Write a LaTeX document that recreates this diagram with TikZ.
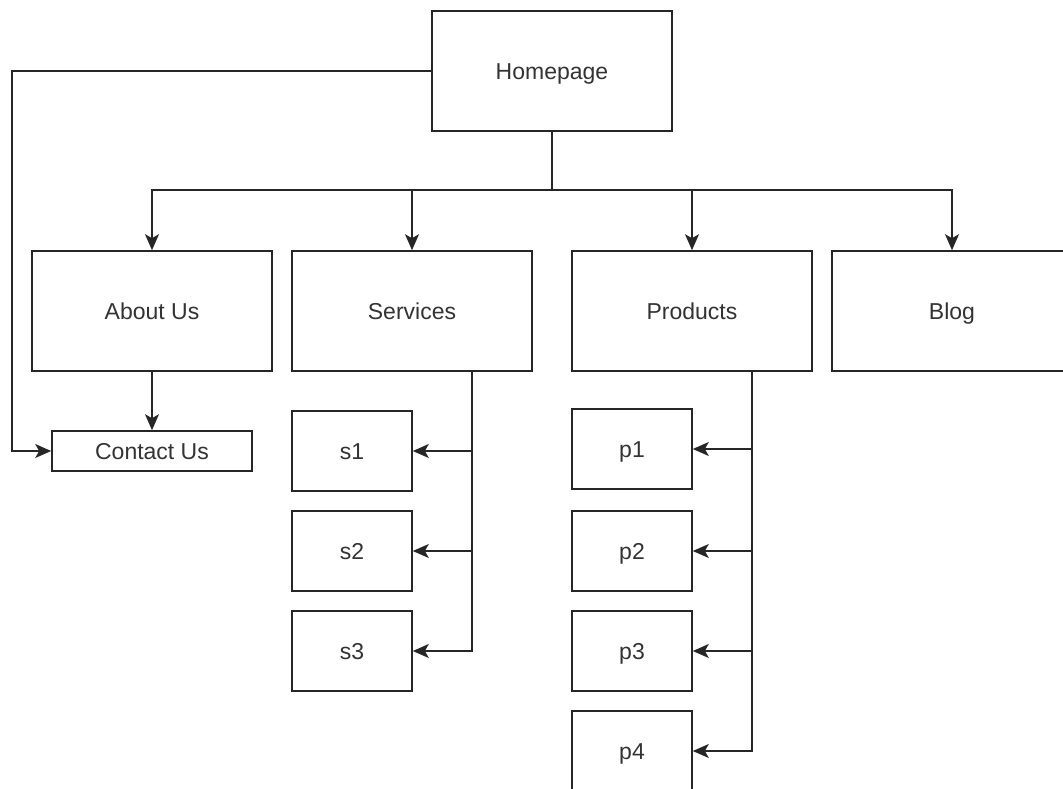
\documentclass[tikz,border=0pt]{standalone}
\usepackage{fontspec}
\setmainfont{Liberation Sans}
\usetikzlibrary{arrows.meta}
\definecolor{txt}{HTML}{333333}
\tikzset{
  box/.style={draw=black!85, line width=1.6pt, fill=white, inner sep=0pt, text=txt,
    font=\fontsize{23}{26}\selectfont, text height=16.5pt, text depth=0pt},
  big/.style={box, minimum width=240pt, minimum height=120pt},
  small/.style={box, minimum width=120pt, minimum height=80pt},
  conn/.style={draw=black!85, line width=1.6pt},
  arr/.style={conn, -{Stealth[length=16pt, width=14pt, inset=4pt]}}
}
\begin{document}
\begin{tikzpicture}[x=1pt, y=-1pt]
\useasboundingbox (0,0) rectangle (1063,788);
\clip (0,0) rectangle (1063,788);
\node[big] (home) at (552,71) {Homepage};
\node[big] (about) at (152,311) {About Us};
\node[big] (serv) at (412,311) {Services};
\node[big] (prod) at (692,311) {Products};
\node[big] (blog) at (952,311) {Blog};
\node[box, minimum width=200pt, minimum height=40pt] (contact) at (152,451) {Contact Us};
\node[small] (s1) at (352,451) {s1};
\node[small] (s2) at (352,551) {s2};
\node[small] (s3) at (352,651) {s3};
\node[small] (p1) at (632,449) {p1};
\node[small] (p2) at (632,551) {p2};
\node[small] (p3) at (632,651) {p3};
\node[small] (p4) at (632,751) {p4};
\coordinate (bus) at (552,190);
\draw[conn] (home.south) -- (bus);
\draw[arr] (bus) -| (about.north);
\draw[arr] (bus) -| (serv.north);
\draw[arr] (bus) -| (prod.north);
\draw[arr] (bus) -| (blog.north);
\draw[arr] (home.west) -- (12,71) |- (contact.west);
\draw[arr] (about.south) -- (contact.north);
\coordinate (sv) at (472,371);
\draw[arr] (sv) |- (s1.east);
\draw[arr] (sv) |- (s2.east);
\draw[arr] (sv) |- (s3.east);
\coordinate (pv) at (752,371);
\draw[arr] (pv) |- (p1.east);
\draw[arr] (pv) |- (p2.east);
\draw[arr] (pv) |- (p3.east);
\draw[arr] (pv) |- (p4.east);
\end{tikzpicture}
\end{document}
